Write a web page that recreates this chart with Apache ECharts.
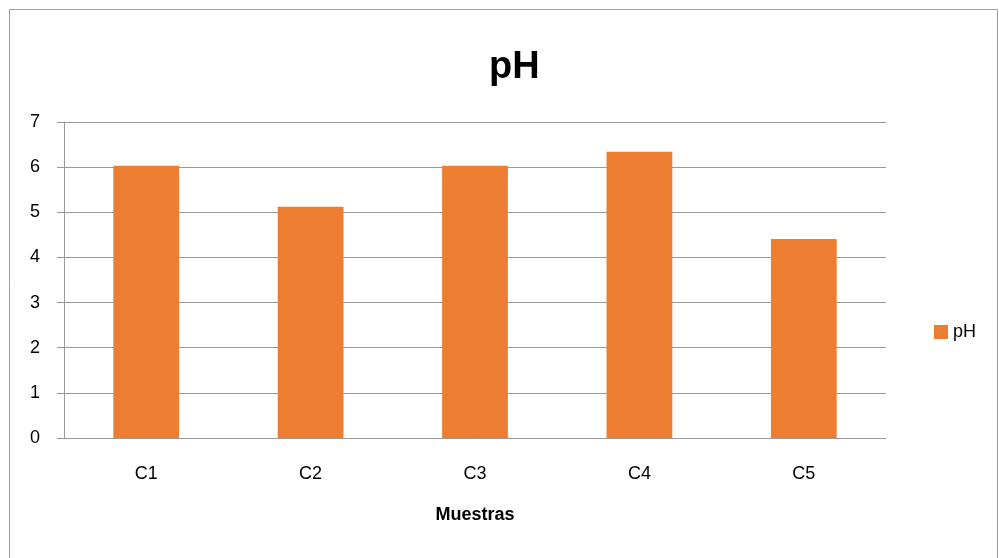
<!DOCTYPE html>
<html>
<head>
<meta charset="utf-8">
<script src="https://cdn.jsdelivr.net/npm/echarts@6/dist/echarts.min.js"></script>
<style>
html,body{margin:0;padding:0;background:#fff;}
#chart{width:999px;height:558px;}
</style>
</head>
<body>
<div id="chart"></div>
<script>
// pH per sample
const categories = ['C1', 'C2', 'C3', 'C4', 'C5'];
const phValues = [6.03, 5.12, 6.03, 6.34, 4.41];
const yTicks = { min: 0, max: 7, interval: 1 };

const font = '"Liberation Sans", "Open Sans", sans-serif';
const chart = echarts.init(document.getElementById('chart'));
chart.setOption({
  animation: false,
  backgroundColor: '#fff',
  textStyle: { fontFamily: font },
  title: {
    text: 'pH',
    left: 484, top: 44,
    textStyle: { fontSize: 38, fontWeight: 'bold', color: '#000', fontFamily: font }
  },
  graphic: [{
    type: 'rect',
    shape: { x: 9.5, y: 9.5, width: 988, height: 560 },
    style: { fill: null, stroke: '#a0a0a0', lineWidth: 1 },
    silent: true
  }],
  legend: {
    data: ['pH'],
    icon: 'rect',
    orient: 'vertical',
    left: 929, top: 318,
    itemWidth: 14, itemHeight: 14, itemGap: 6,
    textStyle: { fontSize: 18, color: '#000', fontFamily: font }
  },
  grid: { left: 64, right: 113, top: 122, bottom: 120, containLabel: false },
  xAxis: {
    type: 'category',
    data: categories,
    name: 'Muestras',
    nameLocation: 'middle',
    nameGap: 68,
    nameTextStyle: { fontSize: 18, fontWeight: 'bold', color: '#000', fontFamily: font },
    axisLine: { lineStyle: { color: '#999', width: 1 } },
    axisTick: { show: false },
    axisLabel: { fontSize: 18, color: '#000', margin: 27, fontFamily: font }
  },
  yAxis: {
    type: 'value',
    min: yTicks.min, max: yTicks.max, interval: yTicks.interval,
    axisLine: { show: true, lineStyle: { color: '#999', width: 1 } },
    axisTick: { show: true, length: 7, lineStyle: { color: '#999' } },
    axisLabel: { fontSize: 18, color: '#000', margin: 24, fontFamily: font },
    splitLine: { lineStyle: { color: '#999', width: 1 } }
  },
  series: [{
    name: 'pH',
    type: 'bar',
    data: phValues,
    barWidth: '40%',
    itemStyle: { color: '#ED7D31' }
  }]
});
</script>
</body>
</html>
